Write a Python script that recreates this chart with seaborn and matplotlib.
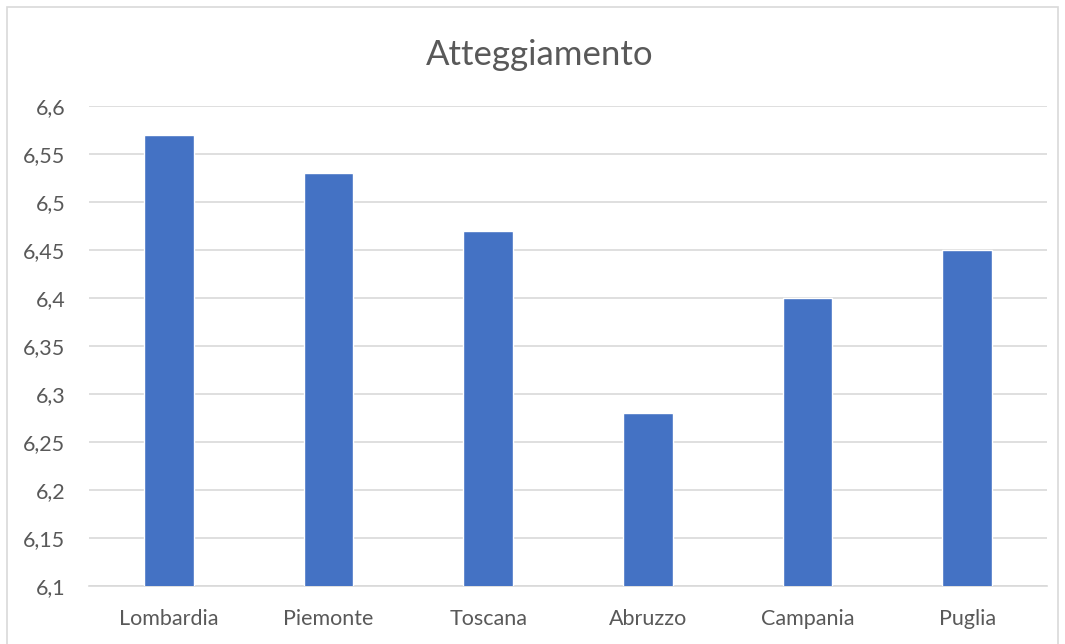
import matplotlib
matplotlib.use("Agg")
import matplotlib.pyplot as plt
import seaborn as sns
import pandas as pd
from matplotlib.patches import Rectangle
from matplotlib.ticker import FixedLocator, FuncFormatter

regions = ["Lombardia", "Piemonte", "Toscana", "Abruzzo", "Campania", "Puglia"]
scores = [6.57, 6.53, 6.47, 6.28, 6.40, 6.45]
y_ticks = [6.1, 6.15, 6.2, 6.25, 6.3, 6.35, 6.4, 6.45, 6.5, 6.55, 6.6]
title = "Atteggiamento"

df = pd.DataFrame({"regione": regions, "valore": scores})

sns.set_theme(style="white")
plt.rcParams["font.family"] = ["Lato", "DejaVu Sans"]

text_col = "#595959"
grid_col = "#D9D9D9"
bar_col = "#4472C4"

fig = plt.figure(figsize=(10.65, 6.44), dpi=100)
ax = fig.add_axes([89 / 1065, 1 - 586 / 644, (1047 - 89) / 1065, (586 - 106) / 644])

sns.barplot(data=df, x="regione", y="valore", color=bar_col, width=0.31,
            saturation=1, ax=ax, zorder=3)

ax.set_ylim(6.1, 6.6)
ax.set_xlim(-0.5, len(regions) - 0.5)
ax.yaxis.set_major_locator(FixedLocator(y_ticks))
ax.yaxis.set_major_formatter(FuncFormatter(lambda v, p: f"{v:g}".replace(".", ",")))
ax.grid(axis="y", color=grid_col, linewidth=1.2, zorder=0)
ax.set_axisbelow(True)
for s in ["top", "right", "left"]:
    ax.spines[s].set_visible(False)
ax.spines["bottom"].set_color(grid_col)
ax.spines["bottom"].set_linewidth(1.2)
ax.set_xlabel("")
ax.set_ylabel("")
ax.tick_params(axis="both", length=0, labelsize=15.5, labelcolor=text_col)
ax.tick_params(axis="x", pad=16.5)
ax.tick_params(axis="y", pad=17)

fig.text(540 / 1065, 1 - 52 / 644, title, ha="center", va="center_baseline",
         fontsize=25, color=text_col)

fig.patches.append(Rectangle((7 / 1065, -0.01), (1058 - 7) / 1065, 1 - 7 / 644 + 0.01,
                             transform=fig.transFigure, fill=False,
                             edgecolor=grid_col, linewidth=1.2))

fig.savefig("out.png", dpi=100)
